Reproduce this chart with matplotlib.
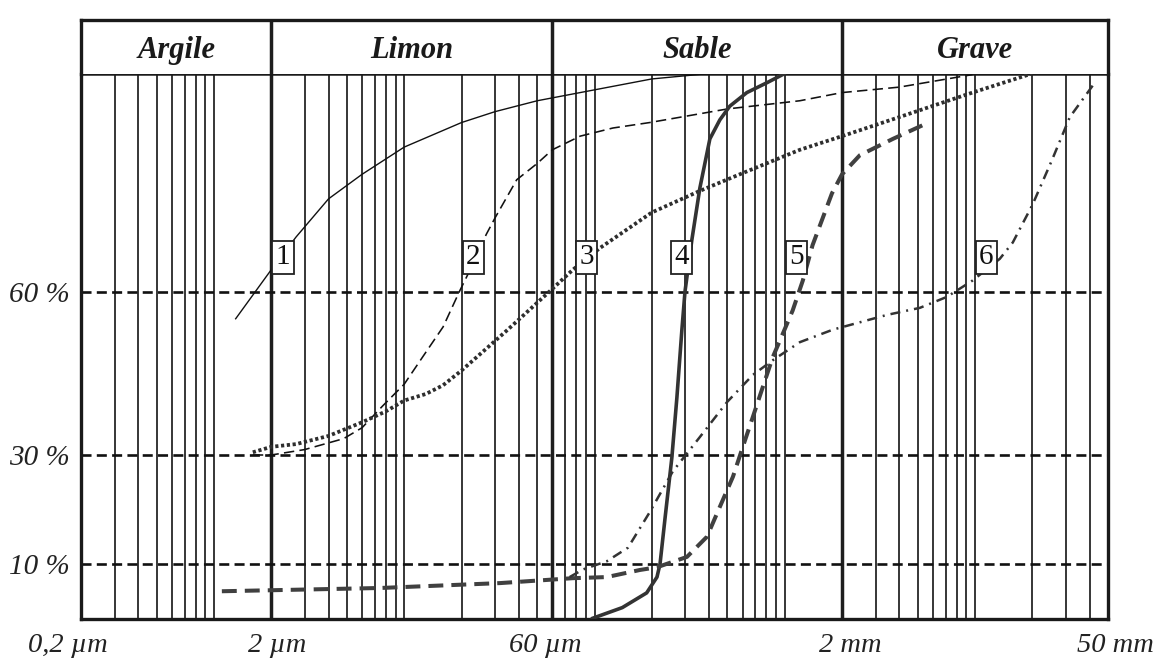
import matplotlib
matplotlib.use("Agg")
import matplotlib.pyplot as plt
from matplotlib.ticker import NullLocator
import numpy as np

# ---------------- data (grain size in micrometres, % passing) ----------------
classes = ["Argile", "Limon", "Sable", "Grave"]
class_bounds = [0.2, 2, 60, 2000, 50000]
grid_um = [0.3, 0.4, 0.5, 0.6, 0.7, 0.8, 0.9, 1.0,
           3, 4, 5, 6, 7, 8, 9, 10, 20, 30, 40, 50,
           70, 80, 90, 100, 200, 300, 400, 500, 600, 700, 800, 900, 1000,
           3000, 4000, 5000, 6000, 7000, 8000, 9000, 10000, 20000, 30000, 40000]
y_levels = [10, 30, 60]
y_labels = ["10 %", "30 %", "60 %"]
x_label_vals = [0.2, 2, 60, 2000, 50000]
x_labels = ["0,2 µm", "2 µm", "60 µm", "2 mm", "50 mm"]

x1 = [1.3, 2.0, 2.7, 4.0, 6.0, 10, 20, 30, 50, 100, 200, 400]
y1 = [55, 64, 70, 77, 81.5, 86.5, 91, 93, 95, 97, 99, 100]

x2 = [1.6, 2.0, 3.0, 4.8, 6.0, 7.7, 10, 12.5, 16, 19.5, 21.5, 27, 30, 39, 50, 60,
      84, 125, 195, 500, 1200, 2000, 4000, 9700]
y2 = [30, 30, 31, 33, 35, 39, 43, 48, 53.5, 60, 63, 70.5, 73.5, 80.5, 83.5, 86,
      88.5, 90, 91, 93.5, 95, 96.5, 97.5, 99.8]

x3 = [1.6, 2.0, 2.7, 4.0, 6.0, 8.0, 10, 13, 16, 20, 28, 35, 58, 77, 107, 200,
      360, 580, 1200, 2000, 4000, 9700, 20000]
y3 = [30.5, 31.5, 32, 33.5, 36, 38, 40, 41.2, 42.8, 45.5, 50, 53, 60, 64, 68, 74.5,
      78.5, 81.5, 86, 88.5, 92, 96.5, 100]

x4 = [97, 140, 188, 213, 221, 235, 255, 271, 288, 299, 325, 358, 404, 456, 514,
      632, 805, 1000]
y4 = [0, 2, 4.7, 7.6, 10, 18.5, 29.5, 40.5, 53, 60, 69.5, 79, 88, 91.5, 94, 96.5,
      98.3, 100]

x5 = [1.1, 7.5, 32, 77, 116, 173, 213, 306, 390, 456, 534, 602, 680, 767, 866,
      943, 1100, 1244, 1400, 1770, 2000, 2480, 3700, 5300]
y5 = [5, 5.6, 6.5, 7.4, 7.6, 8.9, 9.4, 11.3, 15, 20.5, 26, 31.5, 37, 42.5, 48,
      51, 56.5, 62, 68.5, 78, 81.5, 85, 88, 90.5]

x6 = [74, 87, 116, 150, 195, 258, 358, 497, 680, 866, 1200, 1790, 3440, 5130,
      7100, 9700, 13500, 15800, 20100, 25300, 31500, 42600]
y6 = [7.6, 9, 10.5, 13, 19.5, 27, 33.3, 39.7, 44.7, 47.4, 50.7, 53, 55.7, 57,
      59, 62, 66, 69, 76, 84, 92, 98.3]

curve_ids = ["1", "2", "3", "4", "5", "6"]
label_x = [2.3, 23.1, 90.6, 286, 1151, 11460]
label_y = 66.3

# ---------------- figure ----------------
W_PX, H_PX = 1154, 664
fig = plt.figure(figsize=(W_PX / 100, H_PX / 100), dpi=100)
serif = ["Liberation Serif", "DejaVu Serif"]

L = 81 / W_PX
R = 1108 / W_PX
B = (H_PX - 618.5) / H_PX
T = (H_PX - 73.5) / H_PX
TH = (H_PX - 20) / H_PX

ax = fig.add_axes([L, B, R - L, T - B])
ax.set_xscale("log")
ax.set_xlim(class_bounds[0], class_bounds[-1])
ax.set_ylim(0, 100)
ax.xaxis.set_minor_locator(NullLocator())
ax.set_xticks([])

grid_col = "#1e1e1e"
for g in grid_um:
    ax.axvline(g, color=grid_col, lw=1.25, zorder=1)
for b in class_bounds[1:-1]:
    ax.axvline(b, color=grid_col, lw=2.5, zorder=1.5)
for h in y_levels:
    ax.axhline(h, color="#111111", lw=1.9, ls=(0, (3.8, 2.0)), zorder=2)

ax.plot(x1, y1, color="#111111", lw=1.0, zorder=4)
ax.plot(x2, y2, color="#111111", lw=1.15, ls=(0, (6.5, 3.3)), zorder=4)
ax.plot(x3, y3, color="#2e2e2e", lw=2.7, ls=(0, (0.85, 0.7)),
        dash_capstyle="butt", zorder=4)
ax.plot(x4, y4, color="#333333", lw=2.6, zorder=4, solid_capstyle="round")
ax.plot(x5, y5, color="#404040", lw=2.9, ls=(0, (3.7, 2.0)),
        dash_capstyle="butt", zorder=4)
ax.plot(x6, y6, color="#333333", lw=1.8, ls=(0, (4.0, 2.4, 0.8, 2.4)),
        dash_capstyle="butt", zorder=4)

for cid, lx in zip(curve_ids, label_x):
    ax.text(lx, label_y, cid, ha="center", va="center", family=serif,
            fontsize=21, color="#111111", zorder=6,
            bbox=dict(boxstyle="square,pad=0.12", fc="white", ec="#222222", lw=1.3))

ax.set_yticks(y_levels)
ax.set_yticklabels(y_labels, family=serif, style="italic", fontsize=21, color="#222222")
ax.tick_params(axis="y", length=0, pad=8)

x_offsets_px = [-13, 6, -7, 8, 7]
for v, lab, off in zip(x_label_vals, x_labels, x_offsets_px):
    ax.annotate(lab, xy=(v, 0), xycoords=("data", "axes fraction"),
                xytext=(off * 0.72, -33 * 0.72), textcoords="offset points",
                ha="center", va="baseline", family=serif, style="italic",
                fontsize=20.5, color="#222222", annotation_clip=False)

for s in ax.spines.values():
    s.set_linewidth(2.4)
    s.set_color("#1a1a1a")
ax.spines["top"].set_linewidth(1.8)

# header band
axh = fig.add_axes([L, T, R - L, TH - T])
axh.set_xscale("log")
axh.set_xlim(class_bounds[0], class_bounds[-1])
axh.set_ylim(0, 1)
axh.xaxis.set_minor_locator(NullLocator())
axh.set_xticks([])
axh.set_yticks([])
for b in class_bounds[1:-1]:
    axh.axvline(b, color=grid_col, lw=2.5)
for s in axh.spines.values():
    s.set_linewidth(2.4)
    s.set_color("#1a1a1a")
axh.spines["bottom"].set_visible(False)
for name, lo, hi in zip(classes, class_bounds[:-1], class_bounds[1:]):
    axh.text(np.sqrt(lo * hi), 0.29, name, ha="center", va="baseline",
             family=serif, style="italic", weight="bold", fontsize=22,
             color="#1a1a1a")

fig.savefig("out.png", dpi=100, facecolor="white")
